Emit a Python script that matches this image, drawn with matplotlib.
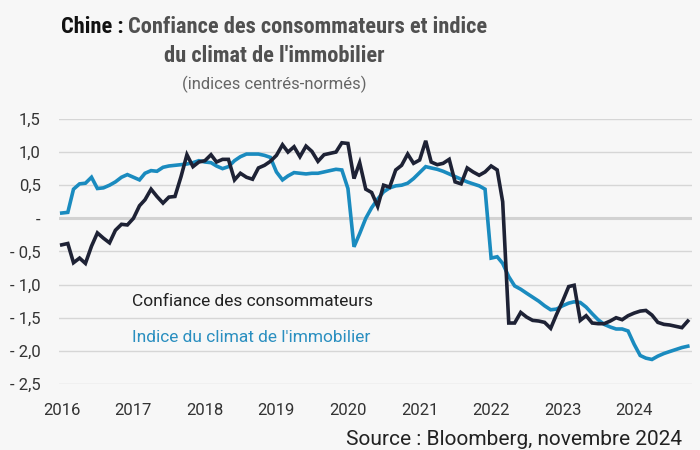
import matplotlib
matplotlib.use("Agg")
import matplotlib.pyplot as plt
import pandas as pd

dates = pd.date_range("2016-01-01", periods=106, freq="MS")

consumer_confidence = [
    # 2016
    -0.40, -0.38, -0.67, -0.60, -0.68, -0.42, -0.22, -0.30, -0.37, -0.18, -0.09, -0.10,
    # 2017
    0.00, 0.19, 0.28, 0.44, 0.33, 0.23, 0.32, 0.33, 0.63, 0.96, 0.78, 0.85,
    # 2018
    0.87, 0.96, 0.85, 0.89, 0.89, 0.58, 0.68, 0.62, 0.59, 0.76, 0.80, 0.86,
    # 2019
    0.95, 1.11, 1.00, 1.08, 0.93, 1.09, 1.01, 0.86, 0.96, 0.98, 1.00, 1.14,
    # 2020
    1.13, 0.60, 0.84, 0.44, 0.39, 0.18, 0.50, 0.47, 0.73, 0.80, 0.97, 0.83,
    # 2021
    0.88, 1.17, 0.85, 0.81, 0.83, 0.89, 0.55, 0.52, 0.76, 0.70, 0.65, 0.70,
    # 2022
    0.79, 0.73, 0.25, -1.58, -1.58, -1.42, -1.49, -1.54, -1.55, -1.57, -1.66, -1.45,
    # 2023
    -1.25, -1.03, -1.01, -1.54, -1.47, -1.58, -1.59, -1.59, -1.55, -1.50, -1.53, -1.47,
    # 2024
    -1.43, -1.40, -1.39, -1.46, -1.57, -1.60, -1.61, -1.63, -1.65, -1.55,
]

real_estate_climate = [
    # 2016
    0.08, 0.09, 0.44, 0.52, 0.53, 0.62, 0.45, 0.46, 0.50, 0.55, 0.62, 0.66,
    # 2017
    0.62, 0.58, 0.68, 0.72, 0.71, 0.77, 0.79, 0.80, 0.81, 0.82, 0.84, 0.87,
    # 2018
    0.85, 0.84, 0.79, 0.75, 0.78, 0.87, 0.93, 0.97, 0.97, 0.97, 0.95, 0.92,
    # 2019
    0.70, 0.58, 0.64, 0.69, 0.68, 0.67, 0.68, 0.68, 0.70, 0.72, 0.74, 0.73,
    # 2020
    0.45, -0.43, -0.23, 0.00, 0.16, 0.29, 0.40, 0.46, 0.49, 0.50, 0.53, 0.60,
    # 2021
    0.69, 0.78, 0.76, 0.74, 0.71, 0.67, 0.63, 0.59, 0.55, 0.52, 0.49, 0.44,
    # 2022
    -0.60, -0.58, -0.68, -0.88, -1.02, -1.07, -1.13, -1.19, -1.25, -1.32, -1.38, -1.37,
    # 2023
    -1.32, -1.28, -1.26, -1.27, -1.34, -1.44, -1.53, -1.60, -1.64, -1.67, -1.67, -1.70,
    # 2024
    -1.90, -2.07, -2.11, -2.13, -2.08, -2.04, -2.01, -1.98, -1.95, -1.93,
]

y_ticks = [1.5, 1.0, 0.5, 0.0, -0.5, -1.0, -1.5, -2.0, -2.5]
y_tick_labels = ["1,5", "1,0", "0,5", "-", "- 0,5", "- 1,0", "- 1,5", "- 2,0", "- 2,5"]
x_tick_years = [2016, 2017, 2018, 2019, 2020, 2021, 2022, 2023, 2024]

label_cc = "Confiance des consommateurs"
label_re = "Indice du climat de l'immobilier"

BG = "#f7f7f7"
DARK = "#1e2235"
BLUE = "#1a8bbf"
FONT = ["Roboto", "DejaVu Sans"]
COND = ["Roboto Condensed", "Liberation Sans Narrow", "DejaVu Sans Condensed", "Roboto", "DejaVu Sans"]

plt.rcParams["font.family"] = FONT

fig = plt.figure(figsize=(7, 4.5), dpi=100, facecolor=BG)
ax = fig.add_axes([0.084, 0.1467, 0.905, 0.589])
ax.set_facecolor(BG)

for t in y_ticks:
    if t == 0:
        ax.axhline(t, color="#d2d2d2", lw=2.2, zorder=1)
    else:
        ax.axhline(t, color="#d6d6d6", lw=1.0, zorder=1)

ax.plot(dates, real_estate_climate, color=BLUE, lw=2.6, zorder=3, solid_joinstyle="miter")
ax.plot(dates, consumer_confidence, color=DARK, lw=2.6, zorder=4, solid_joinstyle="miter")

ax.set_ylim(-2.5, 1.5)
x0 = pd.Timestamp("2016-01-01") - pd.Timedelta(days=15)
x1 = pd.Timestamp("2024-10-24")
ax.set_xlim(x0, x1)

ax.set_yticks(y_ticks)
ax.set_yticklabels(y_tick_labels)
ax.set_xticks([pd.Timestamp(f"{y}-01-01") for y in x_tick_years])
ax.set_xticklabels([str(y) for y in x_tick_years])
ax.tick_params(axis="both", length=0, labelsize=12, colors="#333333")
ax.tick_params(axis="y", pad=13)
ax.tick_params(axis="x", pad=14)
for s in ax.spines.values():
    s.set_visible(False)

fig.text(132 / 700, 1 - 302 / 450, label_cc, color="#222222", fontsize=12.5,
         va="center", ha="left")
fig.text(132 / 700, 1 - 337 / 450, label_re, color="#2a8fc0", fontsize=12.5,
         va="center", ha="left")

# Title
TS = 16.2
t1 = fig.text(0.0, 1 - 33 / 450, "Chine : ", color="#111111", fontsize=TS,
              fontweight="bold", family=COND, ha="left", va="baseline")
t2 = fig.text(0.0, 1 - 33 / 450, "Confiance des consommateurs et indice", color="#505050",
              fontsize=TS, fontweight="bold", family=COND, ha="left", va="baseline")
fig.canvas.draw()
r = fig.canvas.get_renderer()
w1 = t1.get_window_extent(r).width
w2 = t2.get_window_extent(r).width
total = w1 + w2
cx = 274
start = cx - total / 2
t1.set_x(start / 700)
t2.set_x((start + w1) / 700)

fig.text(cx / 700, 1 - 62 / 450, "du climat de l'immobilier", color="#505050",
         fontsize=TS, fontweight="bold", family=COND, ha="center", va="baseline")
fig.text(cx / 700, 1 - 89 / 450, "(indices centrés-normés)", color="#666666",
         fontsize=12, ha="center", va="baseline")

fig.text(682 / 700, 1 - 445 / 450, "Source : Bloomberg, novembre 2024", color="#222222",
         fontsize=15, ha="right", va="baseline")

fig.savefig("out.png", dpi=100, facecolor=BG)
